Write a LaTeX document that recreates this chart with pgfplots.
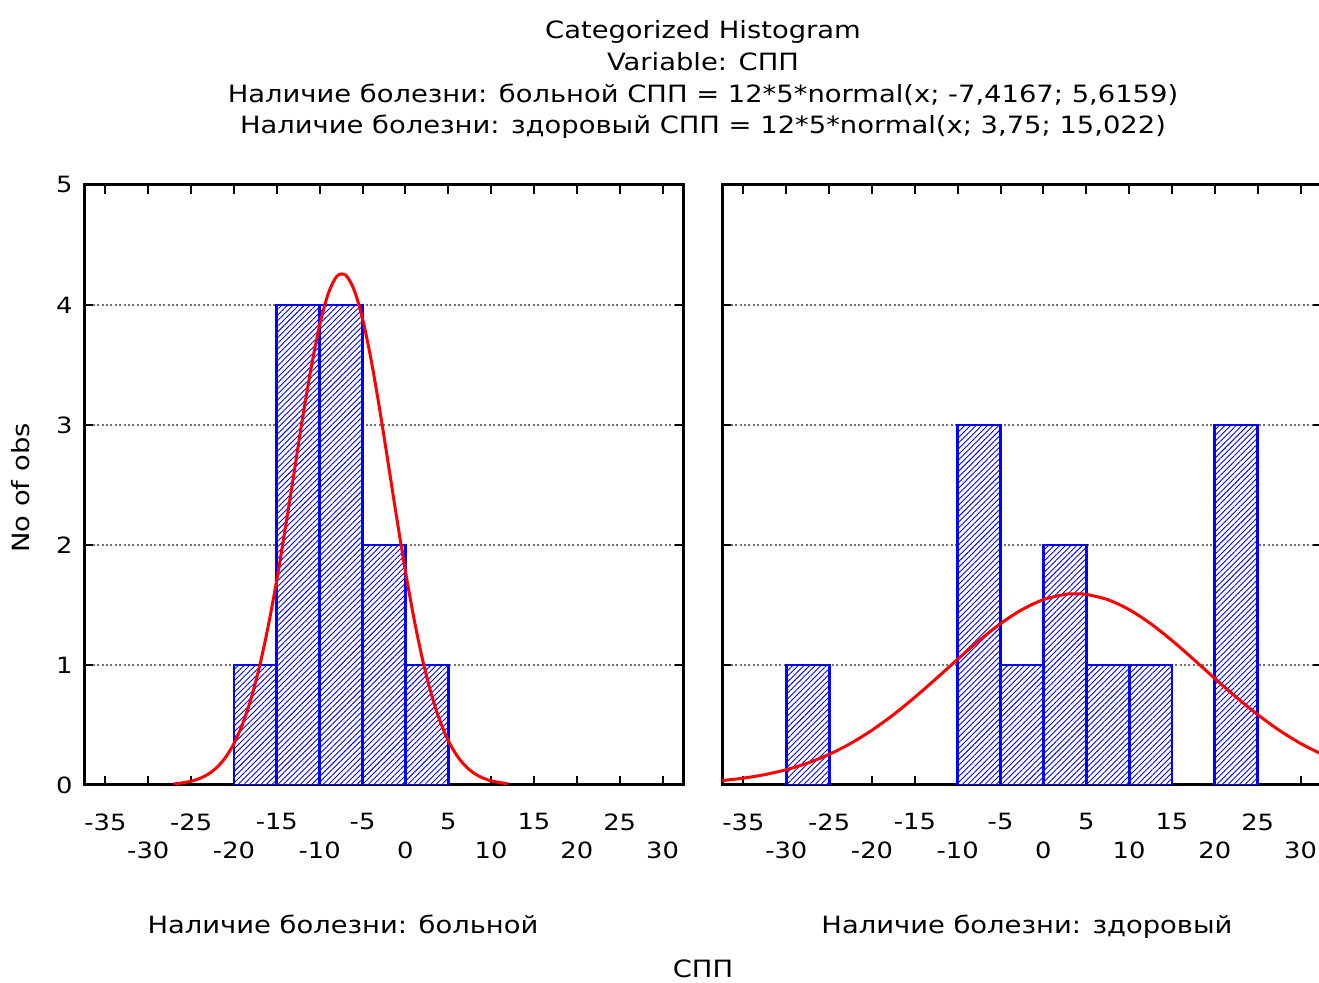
\documentclass[border=0pt]{standalone}
\usepackage{fontspec}
\setmainfont{DejaVu Sans}[FakeStretch=1.15]
\usepackage{pgfplots}
\pgfplotsset{compat=1.18}
\usetikzlibrary{patterns.meta}

\newcommand\titlefont{\fontsize{11.9}{14}\selectfont}
\newcommand\tickfont{\fontsize{11.2}{13}\selectfont}

\pgfplotsset{
  layers/gridbelow/.define layer set={axis background, axis grid, pre main, main,
    axis ticks, axis lines, axis tick labels, axis descriptions, axis foreground}{},
  panel/.style={
    set layers=gridbelow,
    width=300pt, height=300pt, scale only axis,
    xmin=-37.5, xmax=32.5, ymin=0, ymax=5,
    xtick={-35,-25,...,25},
    extra x ticks={-30,-20,...,30},
    extra x tick style={xticklabel style={yshift=-14pt}},
    ytick={0,...,5},
    tick align=inside, major tick length=4.5pt,
    tick style={line width=1pt, black},
    axis line style={line width=1.5pt},
    ymajorgrids,
    grid style={gray!90!black, line width=0.7pt, dash pattern=on 1pt off 1.2pt},
    /pgf/number format/assume math mode=true,
    xticklabel style={yshift=-10.8pt, font=\tickfont},
    yticklabel style={xshift=-2.2pt, font=\tickfont},
  },
  bars/.style={ybar, bar width=5, bar shift=0pt, draw=blue, line width=1.4pt,
    fill=white, postaction={pattern={Lines[angle=45, distance=2pt, line width=0.45pt]},
    pattern color=blue}},
  curve/.style={red, line width=1.5pt, smooth, mark=none},
}

\begin{document}
\begin{tikzpicture}
\node[anchor=base, font=\titlefont] at (351.5pt,472pt) {Categorized Histogram};
\node[anchor=base, font=\titlefont] at (351.5pt,456pt) {Variable: СПП};
\node[anchor=base, font=\titlefont] at (351.5pt,440.25pt) {Наличие болезни: больной СПП = 12*5*normal(x; -7,4167; 5,6159)};
\node[anchor=base, font=\titlefont] at (351.5pt,424.5pt) {Наличие болезни: здоровый СПП = 12*5*normal(x; 3,75; 15,022)};

\begin{axis}[panel, at={(42pt,99pt)}, anchor=south west]
\addplot[bars] coordinates {(-17.5,1) (-12.5,4) (-7.5,4) (-2.5,2) (2.5,1)};
\addplot[curve] coordinates {
(-27,0.0087) (-26,0.0179) (-25,0.0317) (-24,0.0544) (-23,0.0907) (-22,0.1463)
(-21,0.2287) (-20,0.3462) (-19,0.5080) (-18,0.7216) (-17,0.9938) (-16,1.3256)
(-15,1.7126) (-14,2.1437) (-13,2.5999) (-12,3.0546) (-11,3.4770) (-10,3.8341)
(-9,4.0958) (-8,4.2390) (-7,4.2503) (-6,4.1286) (-5,3.8853) (-4,3.5417)
(-3,3.1283) (-2,2.6766) (-1,2.2188) (0,1.7820) (1,1.3864) (2,1.0451)
(3,0.7629) (4,0.5396) (5,0.3698) (6,0.2456) (7,0.1579) (8,0.0984)
(9,0.0594) (10,0.0347) (11,0.0196) (12,0.0108)};
\end{axis}

\begin{axis}[panel, at={(361pt,99pt)}, anchor=south west, yticklabels={}]
\addplot[bars] coordinates {(-27.5,1) (-7.5,3) (-2.5,1) (2.5,2) (7.5,1) (12.5,1) (22.5,3)};
\addplot[curve] coordinates {
(-37.5,0.0367) (-35,0.0572) (-32.5,0.0867) (-30,0.1277) (-27.5,0.1831)
(-25,0.2552) (-22.5,0.3461) (-20,0.4567) (-17.5,0.5859) (-15,0.7312)
(-12.5,0.8875) (-10,1.0481) (-7.5,1.2038) (-5,1.3448) (-2.5,1.4613)
(0,1.5445) (2.5,1.5879) (3.75,1.5934) (5,1.5879) (7.5,1.5445) (10,1.4613)
(12.5,1.3448) (15,1.2038) (17.5,1.0481) (20,0.8875) (22.5,0.7312)
(25,0.5859) (27.5,0.4567) (30,0.3461) (32.5,0.2552)};
\end{axis}

\node[rotate=90, font=\titlefont] at (10.5pt,247.5pt) {No of obs};
\node[anchor=base, font=\titlefont] at (171.5pt,24.5pt) {Наличие болезни: больной};
\node[anchor=base, font=\titlefont] at (513.5pt,24.5pt) {Наличие болезни: здоровый};
\node[anchor=base, font=\titlefont] at (351.5pt,2.5pt) {СПП};
\pgfresetboundingbox
\path[use as bounding box] (0,0) rectangle (659.5pt,491.5pt);
\end{tikzpicture}
\end{document}
